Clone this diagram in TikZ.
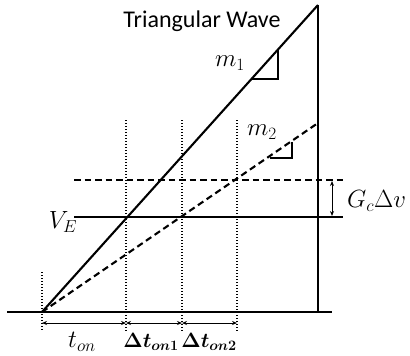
\documentclass[tikz,border=0pt]{standalone}
\usepackage{amsmath}
\usepackage{fontspec}
\newfontfamily\labfont{Carlito}
\usetikzlibrary{arrows.meta}
\begin{document}
\begin{tikzpicture}[x=1pt,y=-1pt,
  thick line/.style={line width=2.1pt},
  dash line/.style={line width=2.1pt,dash pattern=on 6.5pt off 4pt},
  dot line/.style={line width=1.1pt,dash pattern=on 1.2pt off 1.8pt},
  dim arrow/.style={line width=1pt,{Stealth[length=5pt,width=4pt]}-{Stealth[length=5pt,width=4pt]}},
  mlab/.style={font=\fontsize{23}{27}\selectfont,inner sep=0pt},
  blab/.style={font=\fontsize{21}{25}\selectfont,inner sep=0pt}]
\useasboundingbox (0,0) rectangle (410,356);
% key points
\coordinate (O) at (42,312);
\coordinate (base L) at (7,312);
\coordinate (base R) at (332,312);
\coordinate (top) at (318,5);
\coordinate (foot) at (318,312);
\coordinate (dtop) at (318,123);
\coordinate (veL) at (74,217);
\coordinate (veR) at (343,217);
\coordinate (gcL) at (74,180);
\coordinate (gcR) at (343,180);
% axes and wave
\draw[thick line] (base L) -- (base R);
\draw[thick line] (foot) -- (top);
\draw[thick line] (O) -- (top);
\draw[dash line] (O) -- (dtop);
\draw[thick line] (veL) -- (veR);
\draw[dash line] (gcL) -- (gcR);
% dotted verticals
\coordinate (d0t) at (42,272); \coordinate (d0b) at (42,331);
\coordinate (d1t) at (126,120); \coordinate (d1b) at (126,331);
\coordinate (d2t) at (182,120); \coordinate (d2b) at (182,331);
\coordinate (d3t) at (237,120); \coordinate (d3b) at (237,331);
\draw[dot line] (d0t) -- (d0b);
\draw[dot line] (d1t) -- (d1b);
\draw[dot line] (d2t) -- (d2b);
\draw[dot line] (d3t) -- (d3b);
% dimension arrows
\coordinate (a0) at (42,323); \coordinate (a1) at (126,323);
\coordinate (a2) at (182,323); \coordinate (a3) at (237,323);
\draw[dim arrow] (a0) -- (a1);
\draw[dim arrow] (a1) -- (a2);
\draw[dim arrow] (a2) -- (a3);
\coordinate (g1) at (332,181); \coordinate (g2) at (332,216);
\draw[dim arrow] (g1) -- (g2);
% slope triangles
\coordinate (s1a) at (252,79); \coordinate (s1b) at (278,79); \coordinate (s1c) at (278,50);
\draw[line width=1.2pt] (s1a) -- (s1b) -- (s1c);
\coordinate (s2a) at (270,158); \coordinate (s2b) at (292,158); \coordinate (s2c) at (292,142);
\draw[line width=1.2pt] (s2a) -- (s2b) -- (s2c);
% labels
\node[font=\labfont\fontsize{24}{28}\selectfont,inner sep=0pt] (title) at (202,21) {Triangular Wave};
\node[mlab] (m1) at (230,63) {$m_1$};
\node[mlab] (m2) at (262,132) {$m_2$};
\node[mlab] (ve) at (63,222) {$V_E$};
\node[mlab,anchor=west] (gc) at (347,201) {$G_c\Delta v$};
\node[mlab] (ton) at (82,342) {$t_{on}$};
\node[blab] (dt1) at (151,342) {$\boldsymbol{\Delta t_{on1}}$};
\node[blab] (dt2) at (209,342) {$\boldsymbol{\Delta t_{on2}}$};
\end{tikzpicture}
\end{document}
